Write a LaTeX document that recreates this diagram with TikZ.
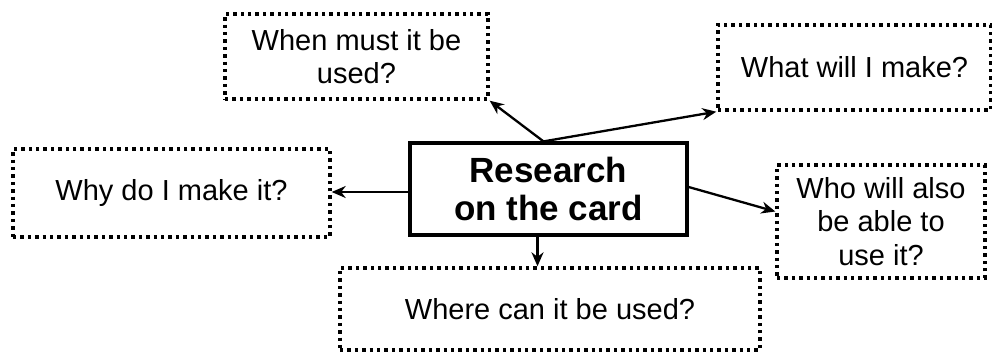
\documentclass[tikz,border=0pt]{standalone}
\usepackage{fontspec}
\setmainfont{Liberation Sans}
\usetikzlibrary{arrows.meta}

\begin{document}
\begin{tikzpicture}[x=0.5pt, y=-0.5pt,
    domanda/.style={draw=black, line width=1.7pt, dash pattern=on 1.7pt off 2pt,
      align=center, inner sep=0pt, font=\fontsize{14.5}{16.8}\selectfont},
    centrale/.style={draw=black, line width=1.6pt, align=center, inner sep=0pt,
      font=\bfseries\fontsize{17.5}{19}\selectfont},
    freccia/.style={line width=1.15pt, -{Stealth[length=7pt, width=6pt]}}]

  \useasboundingbox (0,0) rectangle (992,358);

  \node[centrale, minimum width=138.5pt, minimum height=46pt] (ricerca) at (548.5,189) {Research\\on the card};

  \node[domanda, minimum width=131.5pt, minimum height=42.5pt] (quando) at (356.5,56.5) {When must it be\\used?};
  \node[domanda, minimum width=136.5pt, minimum height=42.5pt] (cosa) at (854.5,67.5) {What will I make?};
  \node[domanda, minimum width=158.5pt, minimum height=44pt] (perche) at (171.5,193) {Why do I make it?};
  \node[domanda, minimum width=104pt, minimum height=56.5pt] (chi) at (881,221.5) {Who will also\\be able to\\use it?};
  \node[domanda, minimum width=210pt, minimum height=41pt] (dove) at (550,309) {Where can it be used?};

  \draw[freccia] ([xshift=-2.5pt]ricerca.north) -- (quando.south east);
  \draw[freccia] ([xshift=-2.5pt]ricerca.north) -- (cosa.south west);
  \draw[freccia] ([yshift=-1.5pt]ricerca.west) -- ([yshift=-1.5pt]ricerca.west -| perche.east);
  \draw[freccia] ([yshift=1pt]ricerca.east) -- ([yshift=5pt]chi.west);
  \draw[freccia] ([xshift=-5.5pt]ricerca.south) -- ([xshift=-5.5pt]ricerca.south |- dove.north);
\end{tikzpicture}
\end{document}
